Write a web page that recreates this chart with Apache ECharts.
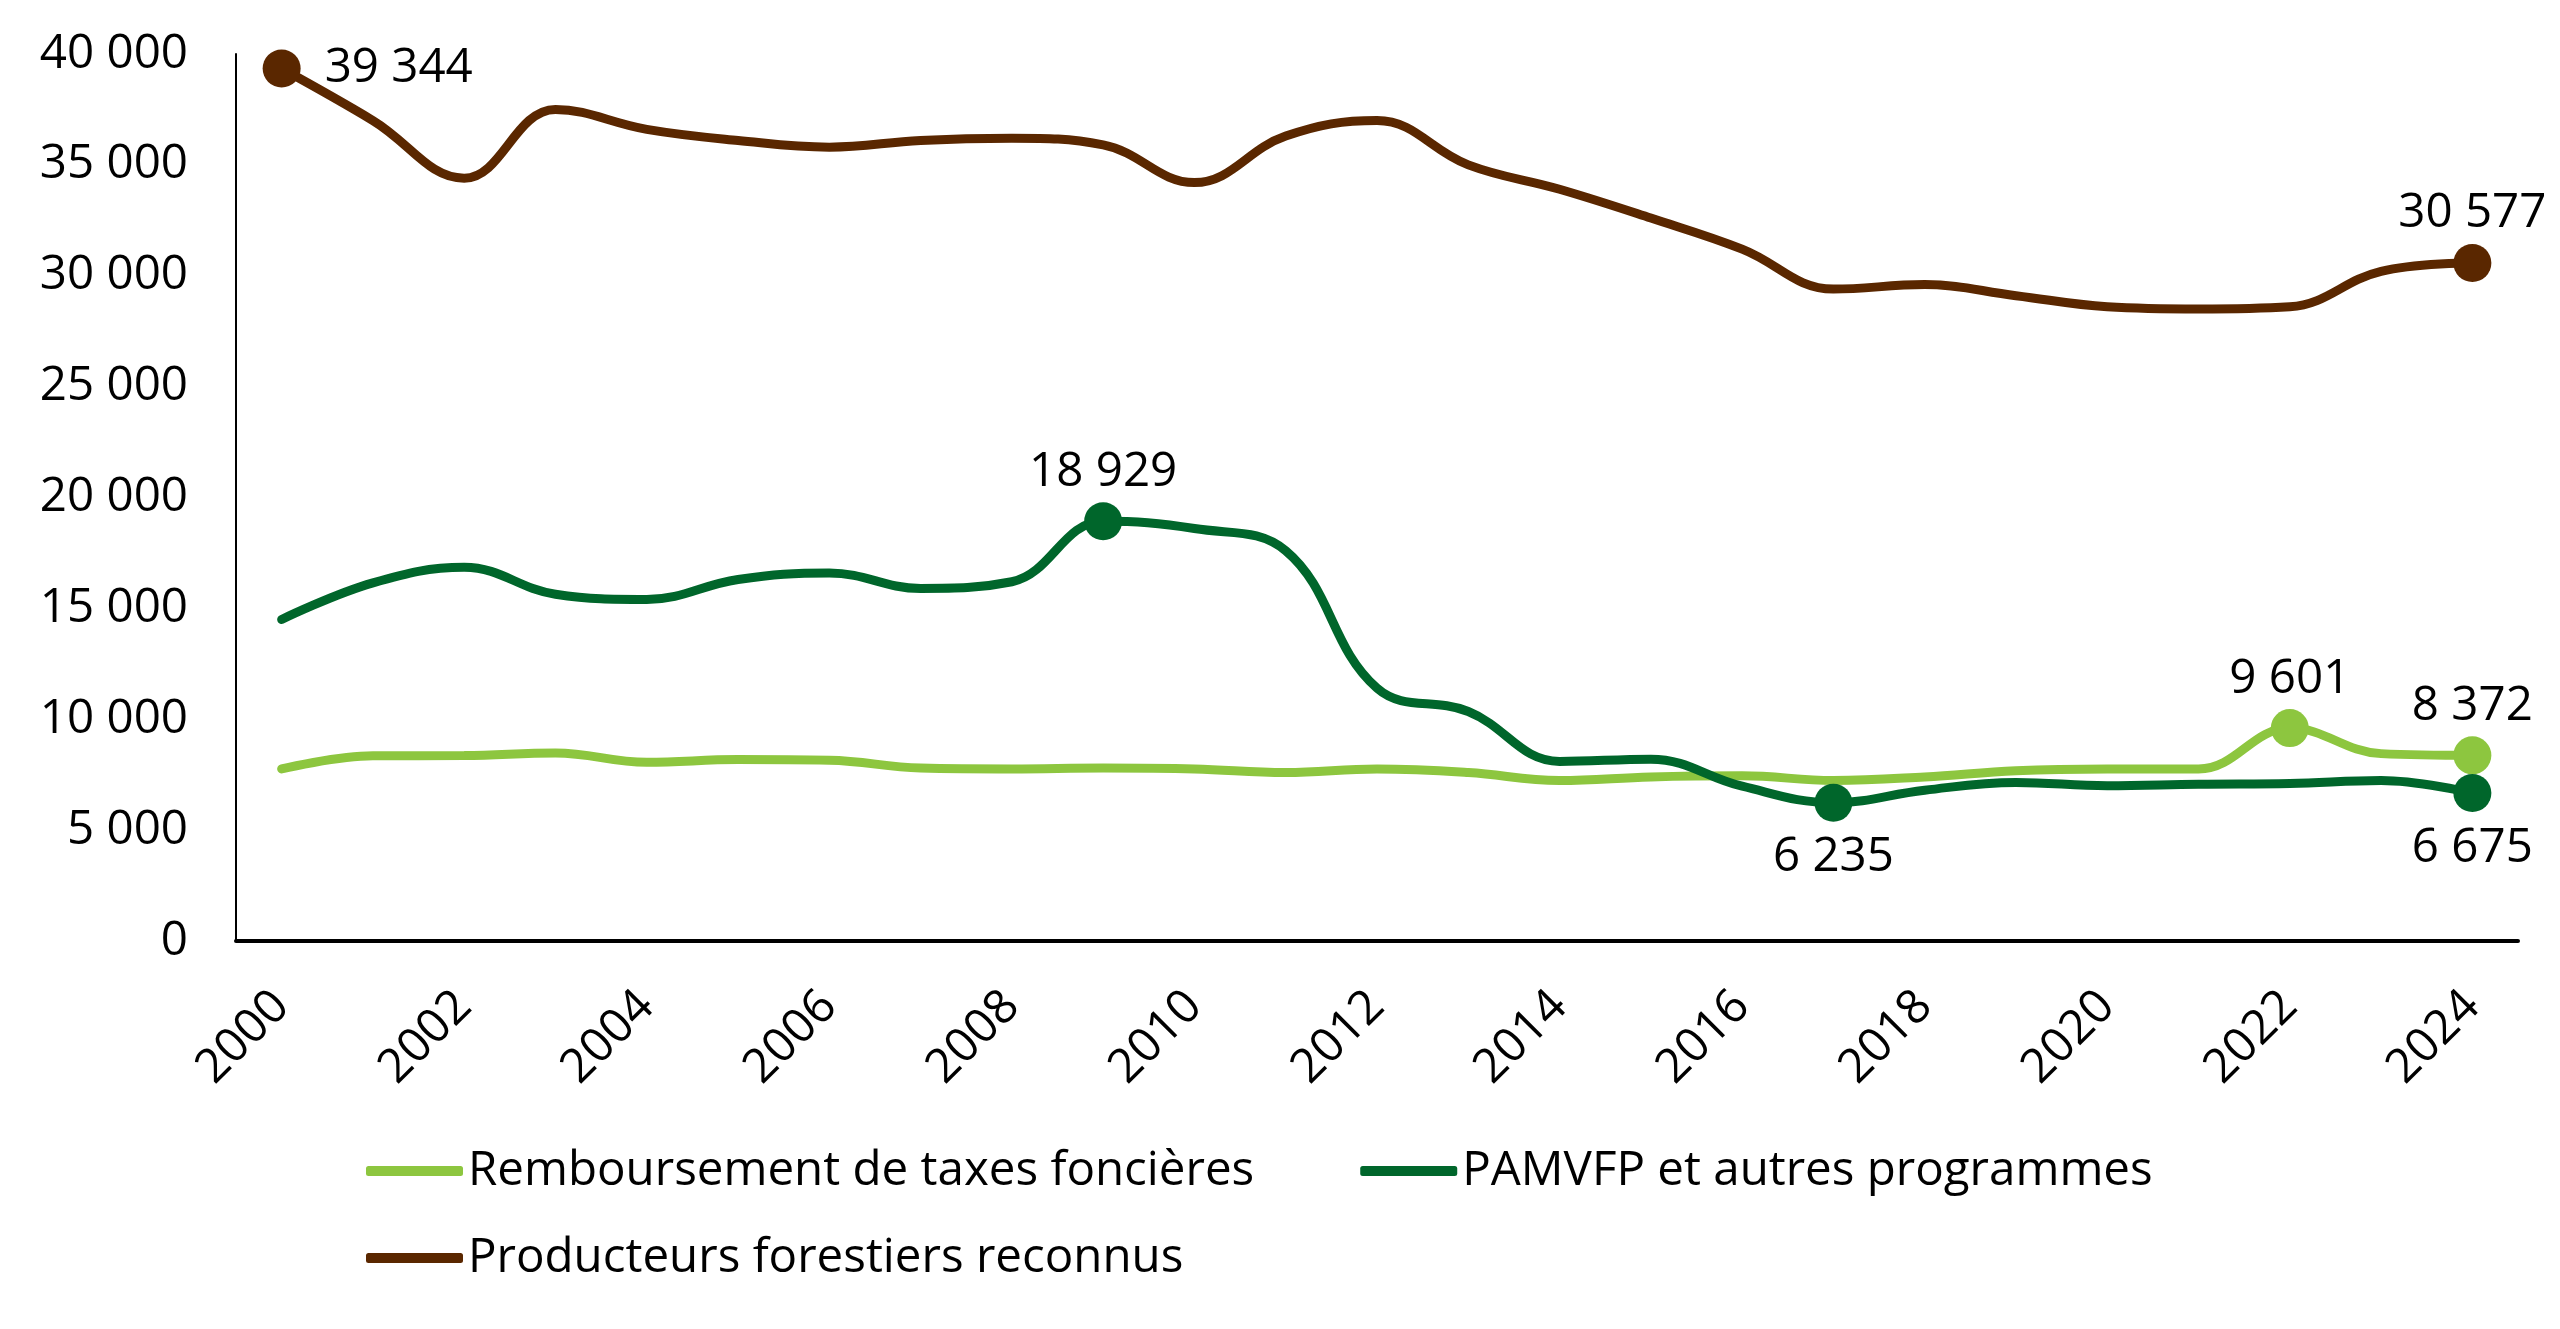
<!DOCTYPE html>
<html lang="fr">
<head>
    <meta charset="UTF-8">
    <title>Producteurs forestiers</title>
    <script src="https://cdn.jsdelivr.net/npm/echarts@6/dist/echarts.min.js"></script>
    <style>
        html, body { margin: 0; padding: 0; background: #fff; }
        #main { width: 2560px; height: 1329px; }
    </style>
</head>
<body>
    <div id="main"></div>
    <script type="text/javascript">
        // données
        var annees = ['2000','2001','2002','2003','2004','2005','2006','2007','2008','2009','2010','2011','2012',
                      '2013','2014','2015','2016','2017','2018','2019','2020','2021','2022','2023','2024'];
        var taxes = [7760, 8350, 8360, 8480, 8060, 8180, 8150, 7800, 7760, 7800, 7760, 7600, 7760,
                     7600, 7240, 7400, 7450, 7240, 7400, 7680, 7760, 7760, 9601, 8450, 8372];
        var pamvfp = [14500, 16150, 16850, 15640, 15400, 16300, 16600, 15900, 16200, 18929, 18600, 17600, 11400,
                      10350, 8100, 8200, 6980, 6235, 6800, 7150, 7000, 7070, 7100, 7240, 6675];
        var producteurs = [39344, 37000, 34400, 37500, 36600, 36100, 35800, 36100, 36200, 35900, 34200, 36300, 37000,
                           35000, 33900, 32600, 31200, 29400, 29600, 29100, 28600, 28500, 28600, 30200, 30577];

        // points mis en évidence : [index, côté de l'étiquette]
        var pointsTaxes = [[22, 'top'], [24, 'top']];
        var pointsPamvfp = [[9, 'top'], [17, 'bottom'], [24, 'bottom']];
        var pointsProd = [[0, 'right'], [24, 'top']];

        var noms = ['Remboursement de taxes foncières', 'PAMVFP et autres programmes', 'Producteurs forestiers reconnus'];
        var couleurs = ['#8dc63f', '#00662b', '#5a2700'];

        var police = 'Open Sans';
        var taille = 47.5;
        var ecarts = { top: 6, bottom: 12, right: 24 };

        function espace(v) {
            return String(v).replace(/\B(?=(\d{3})+(?!\d))/g, ' ');
        }

        function construire(valeurs, points) {
            return valeurs.map(function (v, i) {
                var p = points.find(function (q) { return q[0] === i; });
                if (!p) return { value: v };
                return {
                    value: v,
                    symbol: 'circle',
                    symbolSize: 38,
                    label: { show: true, position: p[1], distance: ecarts[p[1]] }
                };
            });
        }

        function serie(nom, valeurs, points, couleur) {
            return {
                name: nom,
                type: 'line',
                smooth: 0.4,
                symbol: 'none',
                showSymbol: true,
                data: construire(valeurs, points),
                lineStyle: { width: 9, color: couleur, cap: 'round' },
                itemStyle: { color: couleur },
                label: {
                    show: false,
                    fontFamily: police,
                    fontSize: taille,
                    color: '#000',
                    formatter: function (p) { return espace(p.value); }
                },
                emphasis: { disabled: true }
            };
        }

        var myChart = echarts.init(document.getElementById('main'));
        var option = {
            animation: false,
            textStyle: { fontFamily: police },
            grid: { left: 236, right: 42, top: 54, bottom: 388, containLabel: false, outerBoundsMode: 'none' },
            legend: [
                {
                    data: [noms[0], noms[1]],
                    left: 366, top: 1147,
                    padding: 0,
                    itemGap: 106,
                    itemWidth: 97, itemHeight: 10,
                    icon: 'roundRect',
                    textStyle: { fontFamily: police, fontSize: taille, color: '#000' },
                    selectedMode: false
                },
                {
                    data: [noms[2]],
                    left: 366, top: 1234,
                    padding: 0,
                    itemWidth: 97, itemHeight: 10,
                    icon: 'roundRect',
                    textStyle: { fontFamily: police, fontSize: taille, color: '#000' },
                    selectedMode: false
                }
            ],
            xAxis: {
                type: 'category',
                data: annees,
                boundaryGap: true,
                axisLine: { lineStyle: { color: '#000', width: 4 } },
                axisTick: { show: false },
                axisLabel: {
                    interval: 1,
                    rotate: 45,
                    margin: 58,
                    fontFamily: police,
                    fontSize: taille,
                    color: '#000'
                }
            },
            yAxis: {
                type: 'value',
                min: 0, max: 40000, interval: 5000,
                axisLine: { show: true, lineStyle: { color: '#000', width: 2 } },
                axisTick: { show: false },
                splitLine: { show: false },
                axisLabel: {
                    margin: 48,
                    fontFamily: police,
                    fontSize: taille,
                    color: '#000',
                    formatter: function (v) { return espace(v); }
                }
            },
            series: [
                serie(noms[0], taxes, pointsTaxes, couleurs[0]),
                serie(noms[1], pamvfp, pointsPamvfp, couleurs[1]),
                serie(noms[2], producteurs, pointsProd, couleurs[2])
            ]
        };
        myChart.setOption(option);
    </script>
</body>
</html>
